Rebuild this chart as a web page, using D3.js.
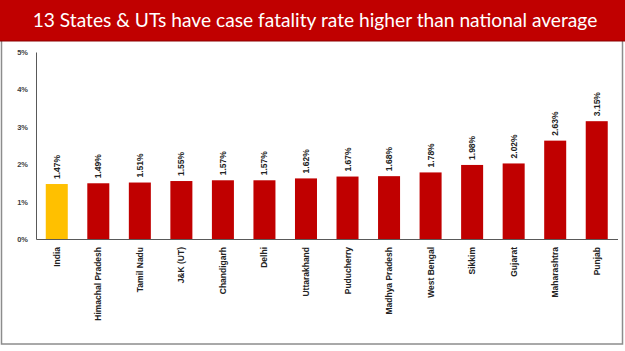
<!DOCTYPE html>
<html><head><meta charset="utf-8">
<script src="https://cdn.jsdelivr.net/npm/d3@7"></script>
<style>body{margin:0;background:#fff}svg{display:block}</style>
</head><body><svg id="c" width="625" height="351"></svg>
<script>
const categories = ["India","Himachal Pradesh","Tamil Nadu","J&K (UT)","Chandigarh","Delhi","Uttarakhand","Puducherry","Madhya Pradesh","West Bengal","Sikkim","Gujarat","Maharashtra","Punjab"];
const values = [1.47,1.49,1.51,1.55,1.57,1.57,1.62,1.67,1.68,1.78,1.98,2.02,2.63,3.15];
const yTicks = [0,1,2,3,4,5];
const title = "13 States & UTs have case fatality rate higher than national average";

const svg = d3.select("#c");
// frame
svg.append("rect").attr("x",1.5).attr("y",1.5).attr("width",621).attr("height",342.5)
  .attr("fill","#fff").attr("stroke","#8c8c8c").attr("stroke-width",1.5);
// title bar
svg.append("rect").attr("x",0).attr("y",0).attr("width",625).attr("height",41).attr("fill","#C00000");
svg.append("line").attr("x1",0).attr("x2",625).attr("y1",41).attr("y2",41).attr("stroke","#8a0000").attr("stroke-width",1.2);
const t = svg.append("text").attr("x",315).attr("y",27).attr("text-anchor","middle")
  .attr("fill","#fff").attr("font-family","Lato, 'Open Sans', sans-serif").attr("font-size",20)
  .text(title);
const tw = t.node().getComputedTextLength();
if (tw > 565) t.attr("font-size", 20*565/tw);

const x = d3.scaleBand().domain(categories).range([36,617.5]).paddingInner(0.47).paddingOuter(0.235);
const y = d3.scaleLinear().domain([0,5]).range([239,52]);

const font = "'Liberation Sans', Arial, sans-serif";
// y axis
const ya = svg.append("g").attr("transform","translate(36,0)")
  .call(d3.axisLeft(y).tickValues(yTicks).tickSize(0).tickPadding(8).tickFormat(d=>d+"%"));
ya.select(".domain").attr("stroke","#595959").attr("stroke-width",1);
ya.selectAll("text").attr("font-family",font).attr("font-size",7.5).attr("font-weight","bold").attr("fill","#404040");

// bars
svg.selectAll(".bar").data(values).join("rect")
  .attr("x",(d,i)=>x(categories[i])).attr("width",x.bandwidth())
  .attr("y",d=>y(d)).attr("height",d=>y(0)-y(d))
  .attr("fill",(d,i)=>i===0?"#FFC000":"#C00000");

// value labels
svg.selectAll(".val").data(values).join("text")
  .attr("transform",(d,i)=>`translate(${x(categories[i])+x.bandwidth()/2+3},${y(d)-5}) rotate(-90)`)
  .attr("font-family",font).attr("font-size",8.5).attr("font-weight","bold").attr("fill","#222")
  .text(d=>d.toFixed(2)+"%");

// x axis
const xa = svg.append("g").attr("transform","translate(0,239)")
  .call(d3.axisBottom(x).tickSize(0).tickPadding(0));
xa.select(".domain").attr("stroke","#595959").attr("stroke-width",1.2);
xa.selectAll("text").attr("font-family",font).attr("font-size",8.5).attr("font-weight","bold").attr("fill","#222")
  .attr("text-anchor","end").attr("dy",null)
  .attr("transform","translate(3,8) rotate(-90)").attr("y",0).attr("x",0);
</script></body></html>
